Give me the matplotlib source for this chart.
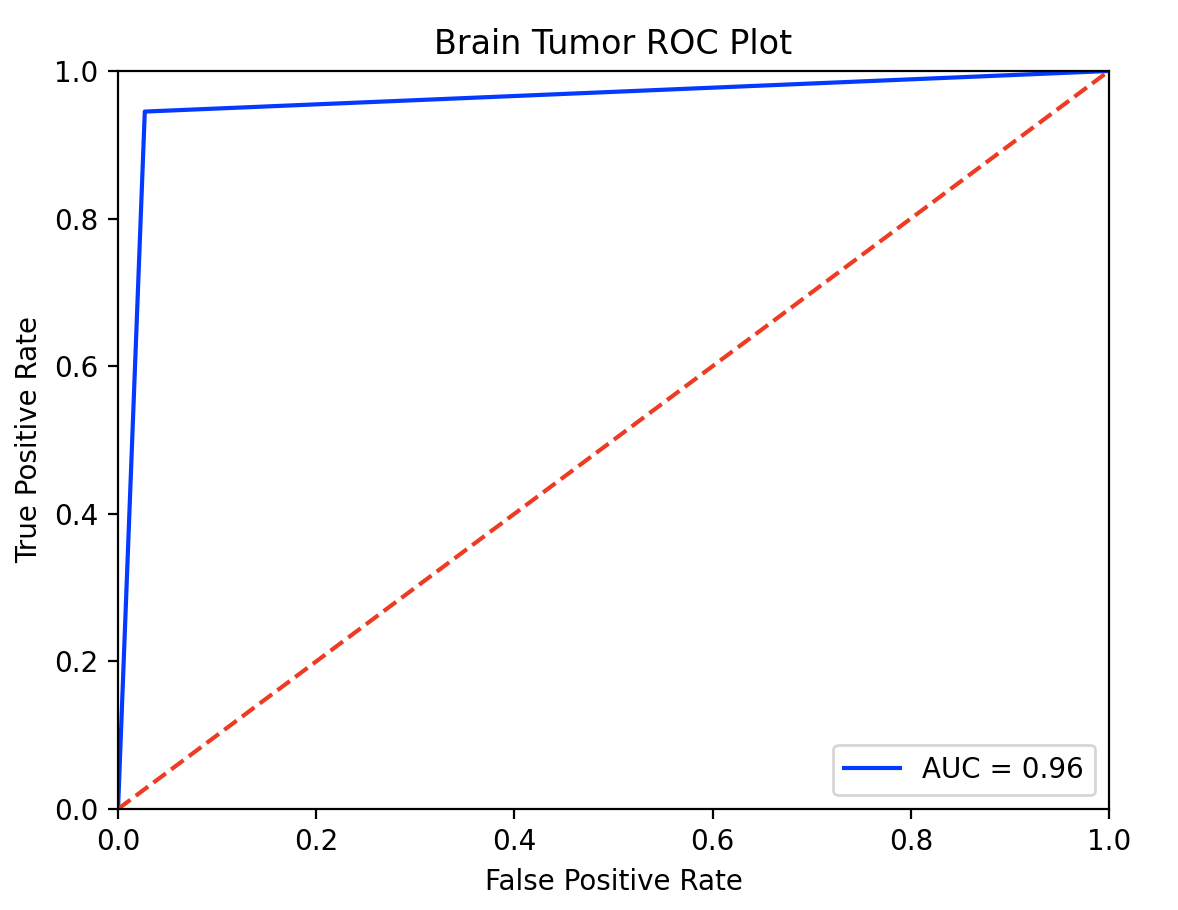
import matplotlib
matplotlib.use('Agg')
import matplotlib.pyplot as plt

# ROC curve points
fpr = [0.0, 0.027, 1.0]
tpr = [0.0, 0.945, 1.0]
auc_value = 0.96

# chance line
chance_x = [0, 1]
chance_y = [0, 1]

fig, ax = plt.subplots(figsize=(5.89, 4.55))
fig.subplots_adjust(left=0.1002, right=0.9414, top=0.922, bottom=0.111)
ax.plot(fpr, tpr, color='#0439ff', label='AUC = %0.2f' % auc_value)
ax.plot(chance_x, chance_y, color='#ee3b24', linestyle='--')
ax.legend(loc='lower right')
ax.set_xlim([0, 1])
ax.set_ylim([0, 1])
ax.set_title('Brain Tumor ROC Plot')
ax.set_xlabel('False Positive Rate')
ax.set_ylabel('True Positive Rate')

fig.savefig('out.png', dpi=200)
